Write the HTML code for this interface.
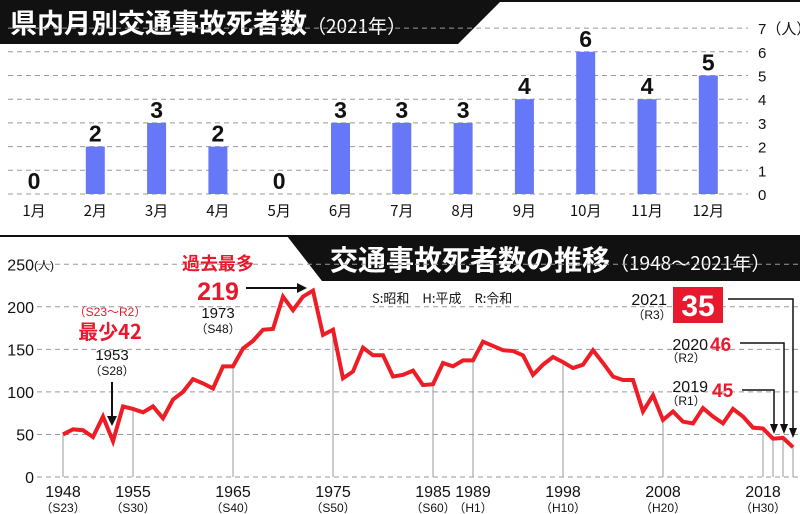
<!DOCTYPE html>
<html><head><meta charset="utf-8"><style>
body{margin:0;background:#fff;}
svg{display:block;font-family:"Liberation Sans","Noto Sans CJK JP",sans-serif;}
</style></head><body>
<svg id="c" width="800" height="514" viewBox="0 0 800 514" xmlns="http://www.w3.org/2000/svg">
<rect width="800" height="514" fill="#fff"/>
<line x1="0" y1="1" x2="800" y2="1" stroke="#111" stroke-width="2"/>
<polygon points="0,0 502,0 458,44 0,44" fill="#111"/>
<text x="10" y="33" fill="#fff" font-size="27" font-weight="bold" font-family="Noto Sans CJK JP,sans-serif">県内月別交通事故死者数<tspan font-size="19" font-weight="normal">（2021年）</tspan></text>
<g id="bars"></g>
<line x1="0" y1="236" x2="800" y2="236" stroke="#111" stroke-width="2"/>
<polygon points="287,236 800,236 800,281 322,281" fill="#111"/>
<text x="330" y="270" fill="#fff" font-size="28" font-weight="bold" font-family="Noto Sans CJK JP,sans-serif">交通事故死者数の推移<tspan font-size="19" font-weight="normal">（1948～2021年）</tspan></text>
<text x="372" y="303" font-size="13" fill="#111" font-family="Noto Sans CJK JP,sans-serif">S:昭和　H:平成　R:令和</text>
<g id="line"></g>
<text x="218" y="270" text-anchor="middle" font-size="18" font-weight="bold" fill="#e8192c" font-family="Noto Sans CJK JP,sans-serif">過去最多</text>
<text x="218" y="300" text-anchor="middle" font-size="25" font-weight="bold" fill="#e8192c">219</text>
<line x1="246" y1="288" x2="303" y2="288" stroke="#111" stroke-width="2"/>
<polygon points="307,288 297,283 297,293" fill="#111"/>
<text x="218" y="318" text-anchor="middle" font-size="15" fill="#111">1973</text>
<text x="218" y="333" text-anchor="middle" font-size="12" fill="#111">（S48）</text>
<text x="110" y="316" text-anchor="middle" font-size="12" fill="#e8192c">（S23～R2）</text>
<text x="110" y="339" text-anchor="middle" font-size="20" font-weight="bold" fill="#e8192c" font-family="Noto Sans CJK JP,sans-serif">最少42</text>
<text x="112" y="360" text-anchor="middle" font-size="15" fill="#111">1953</text>
<text x="112" y="375" text-anchor="middle" font-size="12" fill="#111">（S28）</text>
<line x1="112" y1="382" x2="112" y2="420" stroke="#111" stroke-width="2"/>
<polygon points="112,426 107,416 117,416" fill="#111"/>
<text x="667" y="305" text-anchor="end" font-size="16" fill="#111">2021</text>
<text x="652" y="319" text-anchor="middle" font-size="12" fill="#111">（R3）</text>
<rect x="673" y="287" width="50" height="36" fill="#e8192c"/>
<text x="698" y="316" text-anchor="middle" font-size="30" font-weight="bold" fill="#fff">35</text>
<polyline points="728,299 793,299 793,430" fill="none" stroke="#111" stroke-width="1.5"/>
<polygon points="793,438 789,428 797,428" fill="#111"/>
<text x="708" y="350" text-anchor="end" font-size="16" fill="#111">2020</text>
<text x="686" y="362" text-anchor="middle" font-size="12" fill="#111">（R2）</text>
<text x="710" y="351" font-size="19" font-weight="bold" fill="#e8192c">46</text>
<polyline points="740,343 784,343 784,426" fill="none" stroke="#111" stroke-width="1.5"/>
<polygon points="784,434 780,424 788,424" fill="#111"/>
<text x="708" y="392" text-anchor="end" font-size="16" fill="#111">2019</text>
<text x="686" y="405" text-anchor="middle" font-size="12" fill="#111">（R1）</text>
<text x="712" y="397" font-size="19" font-weight="bold" fill="#e8192c">45</text>
<polyline points="742,390 774,390 774,426" fill="none" stroke="#111" stroke-width="1.5"/>
<polygon points="774,434 770,424 778,424" fill="#111"/>
</svg>
<script>
const months=["1月","2月","3月","4月","5月","6月","7月","8月","9月","10月","11月","12月"];
const monthly=[0,2,3,2,0,3,3,3,4,6,4,5];
const barTicks=[0,1,2,3,4,5,6,7];
const years=[];for(let y=1948;y<=2021;y++)years.push(y);
const deaths=[50,56,55,47,71,42,83,80,76,83,69,91,100,115,110,104,130,130,151,160,173,174,212,196,212,219,167,173,116,124,152,143,143,118,120,125,108,109,134,130,137,137,159,154,149,148,143,120,132,141,135,128,132,149,134,118,114,114,77,96,67,77,65,63,81,71,63,80,71,58,57,45,46,35];
const lineTicks=[0,50,100,150,200,250];
const markYears=[1948,1955,1965,1975,1985,1989,1998,2008,2018,2019,2020,2021];
const markEras=["S23","S30","S40","S50","S60","H1","H10","H20","H30"];
const NS="http://www.w3.org/2000/svg";
function mk(p,t,a){const e=document.createElementNS(NS,t);for(const k in a)e.setAttribute(k,a[k]);p.appendChild(e);return e;}
// bar chart
const bx=i=>34+i*61.3, by=v=>194-v*23.7;
const bg=document.getElementById('bars');
barTicks.forEach(t=>{
 const l=mk(bg,'line',{x1:8,x2:748,y1:by(t),y2:by(t),stroke:'#999','stroke-dasharray':'5,4','stroke-width':1});
 
 
 const tx=mk(bg,'text',{x:758,y:by(t)+6,'font-size':15,fill:'#111'});
 tx.textContent=t+(t===7?'（人）':'');
 
 
});
months.forEach((m,i)=>{
 const v=monthly[i];
 if(v>0){const r=mk(bg,'rect',{x:bx(i)-9.5,y:by(v),width:19,height:by(0)-by(v),fill:'#6677f8'});
 
 }
 const vt=mk(bg,'text',{x:bx(i),y:by(v)-5,'text-anchor':'middle','font-size':23,'font-weight':'bold',fill:'#111'});
 vt.textContent=v;
 
 
 const lt=mk(bg,'text',{x:bx(i),y:216,'text-anchor':'middle','font-size':15,fill:'#111','font-family':'Noto Sans CJK JP,sans-serif'});
 lt.textContent=m;
 
 
});
// line chart
const lx=y=>63+(y-1948)*10, ly=v=>477-v*0.851;
const lg=document.getElementById('line');
lineTicks.forEach(t=>{
 const l=mk(lg,'line',{x1:37,x2:800,y1:ly(t),y2:ly(t),stroke:'#999','stroke-dasharray':'5,4','stroke-width':1});
 
 
 const tx=mk(lg,'text',{x:34,y:ly(t)+6,'text-anchor':'end','font-size':16,fill:'#111'});
 tx.textContent=t;
 
 
});
const unit=mk(lg,'text',{x:34,y:ly(250)+5,'font-size':12,fill:'#111'});unit.textContent='(人)';


markYears.forEach((y,i)=>{
 const v=deaths[y-1948];
 const l=mk(lg,'line',{x1:lx(y),x2:lx(y),y1:ly(0),y2:ly(v),stroke:'#999','stroke-width':1});
 
 
 if(i<9){
  const t=mk(lg,'text',{x:lx(y),y:497,'text-anchor':'middle','font-size':16,fill:'#111'});t.textContent=y;
  
  
  const e=mk(lg,'text',{x:lx(y),y:512,'text-anchor':'middle','font-size':12,fill:'#111'});e.textContent='（'+markEras[i]+'）';
  
  
 }
});
const pl=mk(lg,'polyline',{points:years.map((y,i)=>lx(y)+','+ly(deaths[i])).join(' '),fill:'none',stroke:'#ee1c25','stroke-width':4,'stroke-linejoin':'miter'});


</script>
</body></html>
